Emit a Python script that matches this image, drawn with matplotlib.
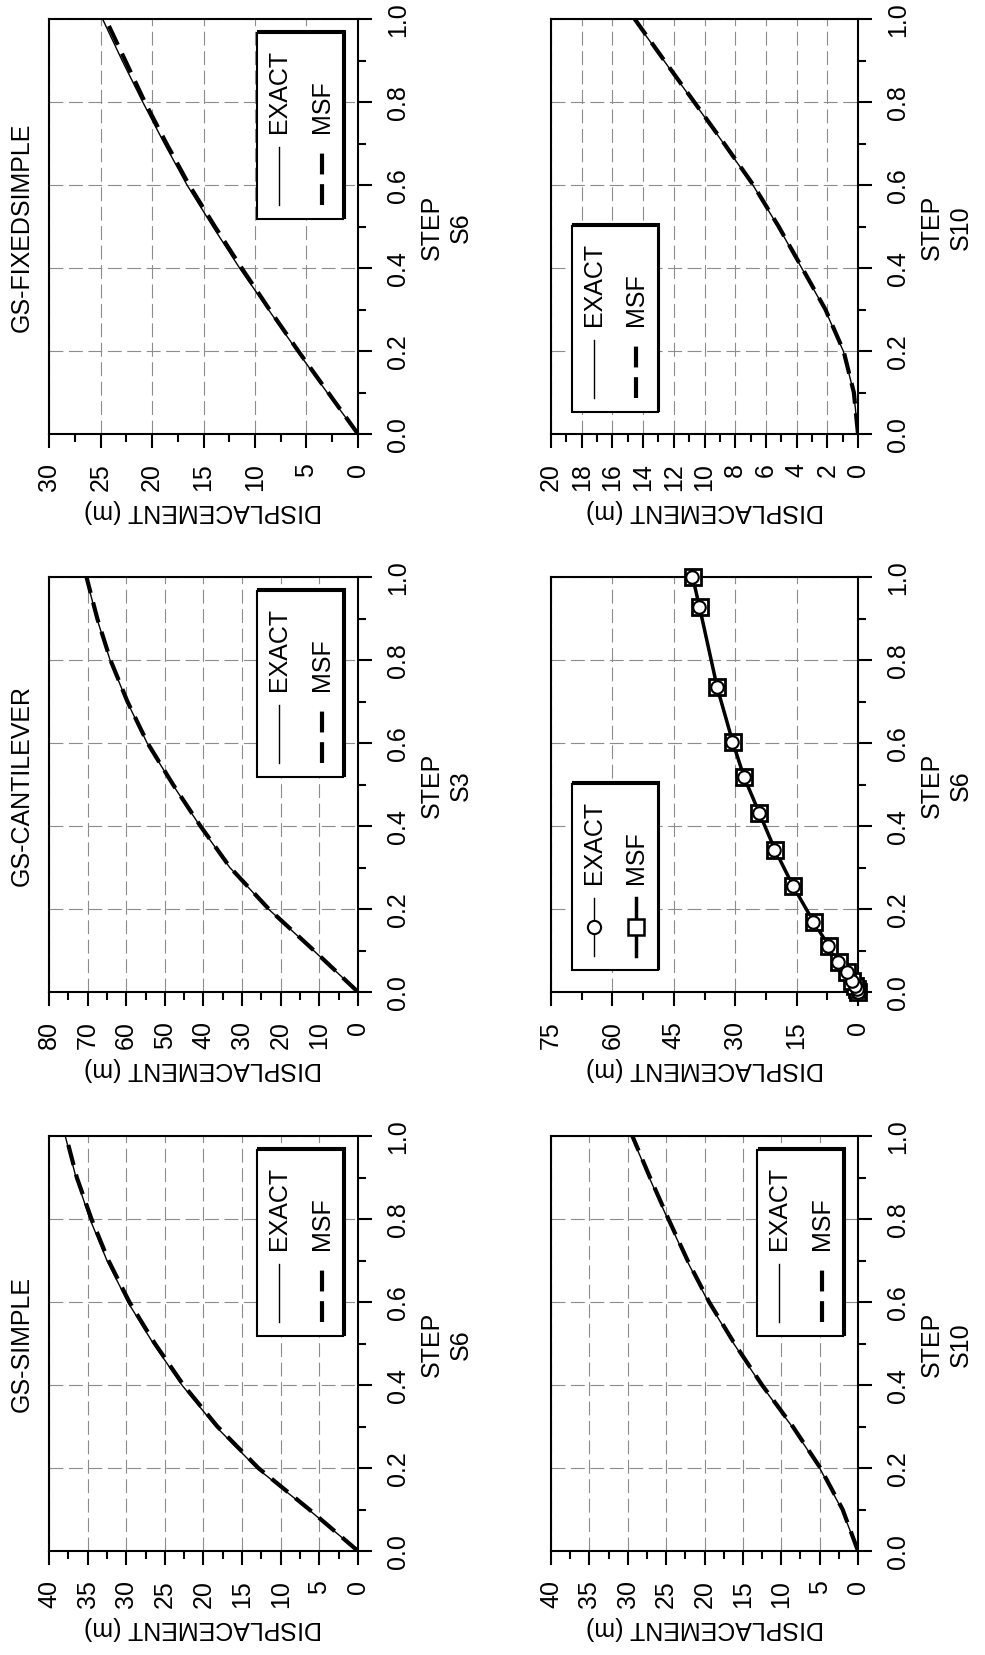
import numpy as np
import matplotlib
matplotlib.use("Agg")
import matplotlib.pyplot as plt
from matplotlib import font_manager as fm
from matplotlib.patches import Rectangle
from matplotlib.ticker import MultipleLocator

# ---- data ----
step = [0.0, 0.1, 0.2, 0.3, 0.4, 0.5, 0.6, 0.7, 0.8, 0.9, 1.0]

simple_exact = [0.0, 6.4, 13.1, 18.4, 22.8, 26.5, 29.8, 32.5, 34.7, 36.5, 37.9]
simple_msf = [0.0, 6.3, 12.9, 18.2, 22.6, 26.3, 29.6, 32.3, 34.5, 36.4, 37.8]

cant_exact = [0.0, 11.5, 23.2, 33.2, 40.9, 48.0, 54.6, 59.8, 64.2, 67.6, 70.4]
cant_msf = [0.0, 11.4, 23.1, 33.1, 40.8, 47.9, 54.5, 59.7, 64.1, 67.5, 70.3]

fixed_exact = [0.0, 3.0, 5.9, 8.7, 11.5, 14.1, 16.6, 18.8, 20.9, 22.9, 24.8]
fixed_msf = [0.0, 2.9, 5.8, 8.6, 11.3, 13.9, 16.4, 18.6, 20.7, 22.6, 24.5]

s10a_exact = [0.0, 2.1, 5.0, 8.6, 12.6, 16.2, 19.5, 22.3, 24.8, 27.2, 29.5]
s10a_msf = [0.0, 2.0, 4.9, 8.5, 12.5, 16.1, 19.4, 22.2, 24.7, 27.1, 29.4]

s6_step = [0.0, 0.007, 0.015, 0.027, 0.047, 0.073, 0.112, 0.168, 0.256,
           0.343, 0.431, 0.517, 0.602, 0.734, 0.927, 1.0]
s6_exact = [0.0, 0.3, 0.7, 1.5, 2.8, 4.8, 7.3, 10.9, 16.0,
            20.4, 24.2, 27.9, 30.7, 34.5, 38.8, 40.5]
s6_msf = [0.0, 0.3, 0.7, 1.5, 2.8, 4.7, 7.2, 10.8, 15.9,
          20.3, 24.1, 27.8, 30.6, 34.4, 38.7, 40.4]

s10b_exact = [0.0, 0.28, 0.96, 2.15, 3.67, 5.2, 6.85, 8.75, 10.7, 12.65, 14.6]
s10b_msf = [0.0, 0.27, 0.94, 2.12, 3.64, 5.17, 6.82, 8.72, 10.67, 12.62, 14.55]

titles = ["GS-SIMPLE", "GS-CANTILEVER", "GS-FIXEDSIMPLE", "", "", ""]
cases = ["S6", "S3", "S6", "S10", "S6", "S10"]
xmax = [40, 80, 30, 40, 75, 20]
xmajor = [5, 10, 5, 5, 15, 2]

# ---- font ----
names = {f.name for f in fm.fontManager.ttflist}
if "Liberation Sans Narrow" in names:
    FAMILY = ["Liberation Sans Narrow", "DejaVu Sans"]
    FS = 21
else:
    FAMILY = ["Liberation Sans", "DejaVu Sans"]
    FS = 18
plt.rcParams["font.family"] = FAMILY
plt.rcParams["font.size"] = FS
plt.rcParams["lines.scale_dashes"] = False

W, H = 985, 1656
fig = plt.figure(figsize=(W / 100, H / 100), dpi=100)


def px_axes(x0, y0, x1, y1):
    return fig.add_axes([x0 / W, 1 - y1 / H, (x1 - x0) / W, (y1 - y0) / H])


# panel boxes in pixels (rotated page: left col = top row of the original)
boxes = [(49, 1137, 358, 1552), (49, 578, 358, 993), (49, 20, 358, 435),
         (551, 1137, 858, 1552), (551, 578, 858, 993), (551, 20, 858, 435)]
leg_pos = [(0.672, 0.517), (0.672, 0.517), (0.672, 0.517),
           (0.672, 0.517), (0.067, 0.052), (0.067, 0.052)]

GRID = dict(color="#8c8c8c", lw=0.8, ls=(0, (10, 4)))
EXACT = dict(color="black", lw=1.0)
MSF = dict(color="black", lw=3.0, ls=(0, (15, 7)))


def draw_legend(ax, x0, y0, markers=False):
    w, h = 0.28, 0.45
    ax.add_patch(Rectangle((x0 + 0.005, y0 + 0.004), w, h, transform=ax.transAxes,
                           facecolor="black", edgecolor="black", lw=1.5, zorder=8))
    ax.add_patch(Rectangle((x0, y0), w, h, transform=ax.transAxes,
                           facecolor="white", edgecolor="black", lw=1.5, zorder=9))
    ys = [y0 + 0.035, y0 + 0.175]
    for i, lab in enumerate(["EXACT", "MSF"]):
        cx = x0 + [0.072, 0.211][i]
        if markers:
            if i == 0:
                ax.plot([cx, cx], ys, transform=ax.transAxes, color="black", lw=1.0, zorder=10)
                ax.plot([cx], [np.mean(ys)], transform=ax.transAxes, marker="o", ms=9.5,
                        mfc="white", mec="black", mew=1.5, zorder=11)
            else:
                ax.plot([cx, cx], ys, transform=ax.transAxes, color="black", lw=2.5, zorder=10)
                ax.plot([cx], [np.mean(ys)], transform=ax.transAxes, marker="s", ms=11,
                        mfc="white", mec="black", mew=1.8, zorder=11)
        else:
            style = EXACT if i == 0 else MSF
            ax.plot([cx, cx], ys, transform=ax.transAxes, zorder=10, **style)
        ax.text(cx, y0 + 0.211, lab, rotation=90, ha="center", va="bottom",
                transform=ax.transAxes, zorder=11)


series = [(step, simple_exact, simple_msf), (step, cant_exact, cant_msf),
          (step, fixed_exact, fixed_msf), (step, s10a_exact, s10a_msf),
          (s6_step, s6_exact, s6_msf), (step, s10b_exact, s10b_msf)]

for k in range(6):
    ax = px_axes(*boxes[k])
    st, ex, ms = series[k]

    if k == 4:
        ax.plot(ms, st, color="black", lw=2.5, marker="s", ms=11, mfc="white",
                mec="black", mew=2.0, clip_on=False, zorder=4)
        ax.plot(ex, st, color="black", lw=1.0, marker="o", ms=9, mfc="white",
                mec="black", mew=1.5, clip_on=False, zorder=5)
    else:
        ax.plot(ex, st, zorder=4, **EXACT)
        ax.plot(ms, st, zorder=5, **MSF)

    ax.set_xlim(xmax[k], 0)
    ax.set_ylim(0, 1)
    xt = np.arange(0, xmax[k] + 0.01, xmajor[k])
    ax.set_xticks(xt, [f"{v:g}" for v in xt], rotation=90, ha="center", va="top")
    ax.xaxis.set_minor_locator(MultipleLocator(xmajor[k] / 2))
    yt = np.arange(0, 1.01, 0.2)
    ax.set_yticks(yt, [f"{v:.1f}" for v in yt], rotation=90, va="center")
    ax.yaxis.set_minor_locator(MultipleLocator(0.1))
    ax.yaxis.tick_right()

    ax.tick_params(axis="both", which="both", direction="out", width=1.5, pad=10)
    ax.tick_params(which="major", length=10)
    ax.tick_params(which="minor", length=5.5)
    ax.tick_params(axis="x", top=False)
    ax.tick_params(axis="y", left=False)
    for sp in ax.spines.values():
        sp.set_linewidth(1.5)

    ax.grid(True, which="major", **GRID)

    ax.set_xlabel("DISPLACEMENT (m)", rotation=180, labelpad=6)
    ax.yaxis.set_label_position("right")
    ax.set_ylabel(f"STEP\n{cases[k]}", rotation=90, labelpad=7, linespacing=1.3)

    if titles[k]:
        ax.text(-0.05, 0.5, titles[k], rotation=90, ha="right", va="center",
                transform=ax.transAxes)

    draw_legend(ax, *leg_pos[k], markers=(k == 4))

fig.savefig("out.png", dpi=100)
